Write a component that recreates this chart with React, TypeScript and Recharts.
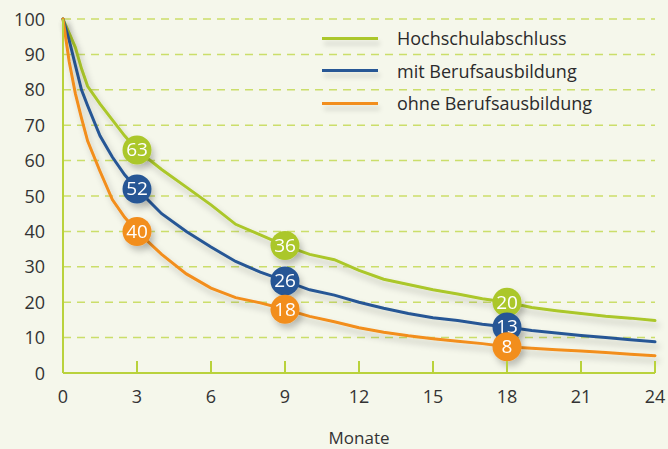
import React from "react";
import { LineChart, Line, XAxis, YAxis, CartesianGrid, ReferenceDot } from "recharts";

const months = [0, 0.25, 0.5, 0.75, 1, 1.5, 2, 2.5, 3, 4, 5, 6, 7, 8, 9, 10, 11, 12, 13, 14, 15, 16, 17, 18, 19, 20, 21, 22, 23, 24];
const hochschule = [100, 96, 92, 86, 81, 76, 71.5, 67, 63, 57.5, 52.5, 47.5, 42, 39, 36, 33.5, 32, 29, 26.5, 25, 23.5, 22.3, 21, 20, 18.5, 17.6, 16.8, 16, 15.5, 14.8];
const mitAusbildung = [100, 94, 87, 80, 75.5, 67, 61, 56, 52, 45, 40, 35.6, 31.5, 28.5, 26, 23.5, 22, 20, 18.3, 16.8, 15.6, 14.8, 13.8, 13, 12, 11.3, 10.6, 10, 9.4, 8.8];
const ohneAusbildung = [100, 88, 79, 72, 65.5, 57, 49, 44, 40, 33.5, 28, 24, 21.3, 19.8, 18, 16, 14.5, 12.8, 11.5, 10.5, 9.7, 9, 8.3, 7.4, 7.0, 6.6, 6.2, 5.8, 5.3, 4.9];

const xTicks = [0, 3, 6, 9, 12, 15, 18, 21, 24];
const yTicks = [0, 10, 20, 30, 40, 50, 60, 70, 80, 90, 100];
const markerMonths = [3, 9, 18];

const series = [
  { key: "hs", name: "Hochschulabschluss", color: "#abc72b", values: hochschule, marks: [63, 36, 20] },
  { key: "mit", name: "mit Berufsausbildung", color: "#275795", values: mitAusbildung, marks: [52, 26, 13] },
  { key: "ohne", name: "ohne Berufsausbildung", color: "#f28e1e", values: ohneAusbildung, marks: [40, 18, 8] },
];

const data = months.map((m, i) => ({ m, hs: hochschule[i], mit: mitAusbildung[i], ohne: ohneAusbildung[i] }));

const FONT = "'Open Sans', 'Noto Sans', sans-serif";
const BG = "#f5f7eb";
const AXIS = "#b9d23c";

const XTick = ({ x, y, payload }: any) => (
  <g>
    <line x1={x} x2={x} y1={y - 12} y2={y} stroke={AXIS} strokeWidth={2} />
    <text x={x} y={y + 30} textAnchor="middle" fontSize={18} fill="#333" fontFamily={FONT}>
      {payload.value}
    </text>
  </g>
);

const YTick = ({ x, y, payload }: any) => (
  <text x={x} y={y + 6.5} textAnchor="end" fontSize={18} fill="#333" fontFamily={FONT}>
    {payload.value}
  </text>
);

const Badge = (color: string, label: number) => (props: any) => (
  <g filter="url(#shadow)">
    <circle cx={props.cx} cy={props.cy} r={14.5} fill={color} />
    <text x={props.cx} y={props.cy + 6.5} textAnchor="middle" fontSize={19} fill="#fff" fontFamily={FONT}>
      {label}
    </text>
  </g>
);

const LegendBox = () => (
  <div style={{ position: "absolute", left: 322, top: 22, fontFamily: FONT, fontSize: 18, color: "#2b2b2b" }}>
    {series.map((s) => (
      <div key={s.key} style={{ display: "flex", alignItems: "center", height: 32.5 }}>
        <div style={{ width: 56, height: 3, background: s.color, boxShadow: "2px 5px 5px rgba(0,0,0,0.15)", marginRight: 19 }} />
        <span>{s.name}</span>
      </div>
    ))}
  </div>
);

export default function App() {
  return (
    <div style={{ position: "absolute", left: 0, top: 0, width: 668, height: 449, background: BG }}>
      <LineChart width={668} height={449} data={data} margin={{ top: 19, right: 13, left: 0, bottom: 0 }}>
        <defs>
          <filter id="shadow" x="-20%" y="-20%" width="150%" height="160%">
            <feDropShadow dx={3} dy={5} stdDeviation={3} floodColor="#000" floodOpacity={0.22} />
          </filter>
        </defs>
        <CartesianGrid vertical={false} stroke="#cbde6a" strokeDasharray="8 6" strokeWidth={1.5} horizontalValues={yTicks.filter((v) => v > 0)} />
        <XAxis
          dataKey="m"
          type="number"
          domain={[0, 24]}
          ticks={xTicks}
          tick={<XTick />}
          tickLine={false}
          tickSize={0}
          tickMargin={0}
          axisLine={{ stroke: AXIS, strokeWidth: 2 }}
          height={76}
          interval={0}
          label={{ value: "Monate", position: "insideBottom", offset: 5, fontSize: 17, fill: "#333", fontFamily: FONT }}
        />
        <YAxis
          type="number"
          domain={[0, 100]}
          ticks={yTicks}
          tick={<YTick />}
          tickLine={false}
          tickSize={0}
          tickMargin={18}
          width={63}
          axisLine={{ stroke: AXIS, strokeWidth: 2 }}
          interval={0}
        />
        {series.map((s) => (
          <Line
            key={s.key}
            dataKey={s.key}
            name={s.name}
            type="linear"
            stroke={s.color}
            strokeWidth={3}
            dot={false}
            activeDot={false}
            strokeLinecap="round"
            filter="url(#shadow)"
            isAnimationActive={false}
          />
        ))}
        {series.map((s) =>
          markerMonths.map((m, i) => (
            <ReferenceDot key={s.key + m} x={m} y={s.values[months.indexOf(m)]} r={14.5} shape={Badge(s.color, s.marks[i])} />
          ))
        )}
      </LineChart>
      <LegendBox />
    </div>
  );
}
